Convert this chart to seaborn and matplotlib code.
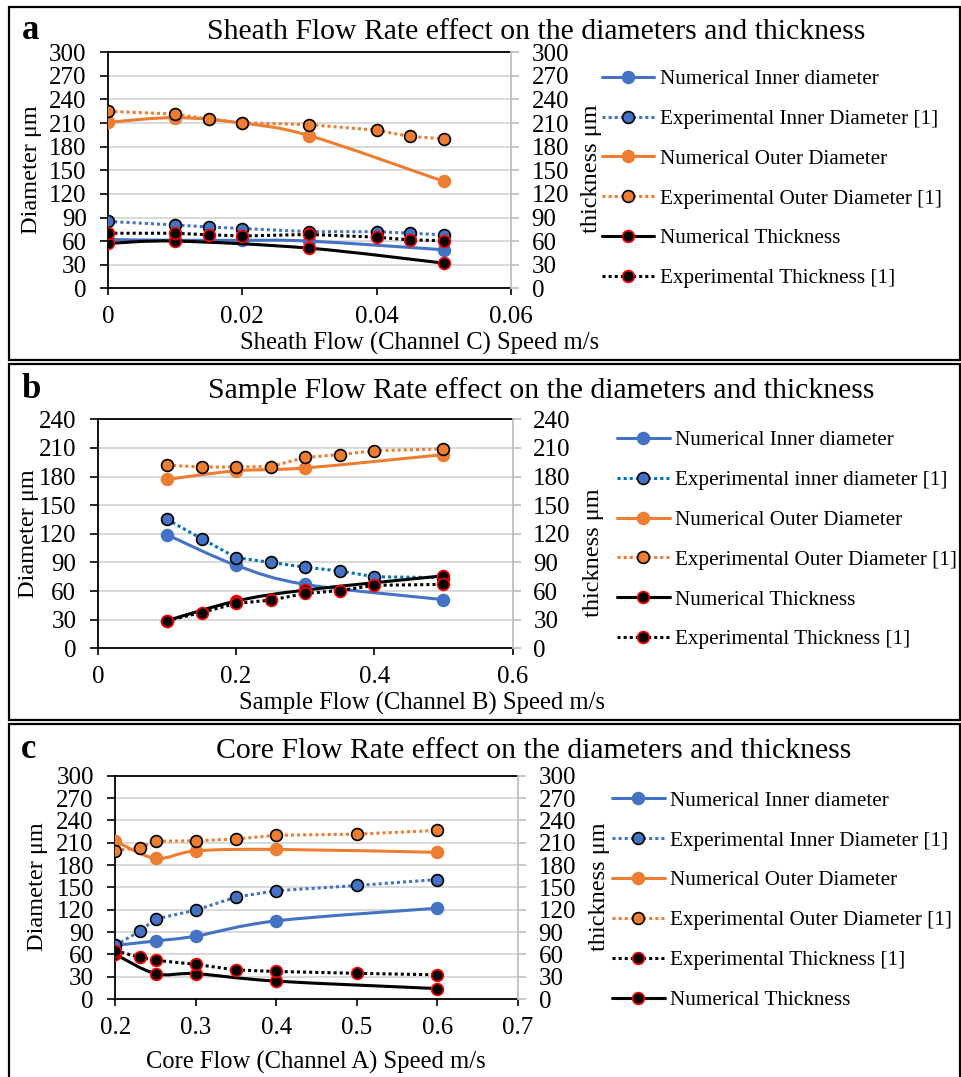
"""Three-panel flow-rate comparison: numerical vs experimental diameters and thickness."""

import matplotlib

matplotlib.use("Agg")
import matplotlib.pyplot as plt
import numpy as np
import seaborn as sns
from matplotlib.lines import Line2D
from matplotlib.patches import PathPatch, Rectangle
from matplotlib.path import Path

# ---- panel a: sheath flow (channel C) ----
a_num_x = [0, 0.01, 0.02, 0.03, 0.05]
a_num_inner = [62, 61, 61, 60, 49]
a_num_outer = [211, 217, 210, 194, 136]
a_num_thick_x = [0, 0.01, 0.03, 0.05]
a_num_thick = [57, 60, 51, 32]
a_exp_x = [0, 0.01, 0.015, 0.02, 0.03, 0.04, 0.045, 0.05]
a_exp_inner = [85, 80.5, 78, 76, 72, 72, 70, 68]
a_exp_outer = [225, 221.5, 215, 210.5, 208, 201, 193, 190]
a_exp_thick = [70, 70, 68, 66.5, 68.5, 65, 61.5, 60.5]

# ---- panel b: sample flow (channel B) ----
b_num_x = [0.1, 0.2, 0.3, 0.5]
b_num_inner = [119, 87, 67, 51]
b_num_outer = [177, 186, 189, 203]
b_num_thick = [29, 49.5, 61, 76]
b_exp_x = [0.1, 0.15, 0.2, 0.25, 0.3, 0.35, 0.4, 0.5]
b_exp_inner = [135, 115, 95, 90, 85, 81, 75, 74]
b_exp_outer = [192, 190, 190, 190.5, 200, 203, 207, 209]
b_exp_thick = [29, 37.5, 47, 50.5, 57.5, 60.5, 66, 67]

# ---- panel c: core flow (channel A) ----
c_num_x = [0.2, 0.25, 0.3, 0.4, 0.6]
c_num_inner = [72, 78, 84.5, 105, 122]
c_num_outer = [212, 189, 199, 201, 197]
c_num_thick = [60, 34, 34, 24, 14]
c_exp_x = [0.2, 0.23, 0.25, 0.3, 0.35, 0.4, 0.5, 0.6]
c_exp_inner = [72, 91, 107.5, 119.5, 137, 145.5, 152.5, 160.5]
c_exp_outer = [199.5, 203, 212, 212.5, 215, 220, 221.5, 226.5]
c_exp_thick = [65, 56, 52, 46.5, 39, 37, 34.5, 32.5]

titles = [
    "Sheath Flow Rate effect on the diameters and thickness",
    "Sample Flow Rate effect on the diameters and thickness",
    "Core Flow Rate effect on the diameters and thickness",
]
xlabels = [
    "Sheath Flow (Channel C) Speed m/s",
    "Sample Flow (Channel B) Speed m/s",
    "Core Flow (Channel A) Speed m/s",
]
labels_a = [
    "Numerical Inner diameter",
    "Experimental Inner Diameter [1]",
    "Numerical Outer Diameter",
    "Experimental Outer Diameter [1]",
    "Numerical Thickness",
    "Experimental Thickness [1]",
]
labels_b = [
    "Numerical Inner diameter",
    "Experimental inner diameter [1]",
    "Numerical Outer Diameter",
    "Experimental Outer Diameter [1]",
    "Numerical Thickness",
    "Experimental Thickness [1]",
]
labels_c = [
    "Numerical Inner diameter",
    "Experimental Inner Diameter [1]",
    "Numerical Outer Diameter",
    "Experimental Outer Diameter [1]",
    "Experimental Thickness [1]",
    "Numerical Thickness",
]

BLUE = "#4472C4"
ORANGE = "#ED7D31"
RED = "#FF0000"
GRID = "#D9D9D9"
GREY_AX = "#BFBFBF"
DOTS = (0, (1, 1))
LW = 2.2
MS = 8.5
MEW = 1.2
TICK_FS = 18

sns.set_theme(style="white")
plt.rcParams["font.family"] = ["Liberation Serif", "DejaVu Serif"]
plt.rcParams["text.color"] = "black"
plt.rcParams["xtick.color"] = "black"
plt.rcParams["ytick.color"] = "black"
plt.rcParams["xtick.labelcolor"] = "black"
plt.rcParams["ytick.labelcolor"] = "black"

W, H = 962, 1077
fig = plt.figure(figsize=(W / 100, H / 100), dpi=100)


def px_axes(left, top, right, bottom):
    return fig.add_axes([left / W, 1 - bottom / H, (right - left) / W, (bottom - top) / H])


def smooth_path(x, y):
    # Excel-like smoothed line: Catmull-Rom converted to cubic Bezier segments
    pts = np.column_stack([x, y]).astype(float)
    n = len(pts)
    verts = [pts[0]]
    codes = [Path.MOVETO]
    for i in range(n - 1):
        p0 = pts[i - 1] if i > 0 else pts[i]
        p1, p2 = pts[i], pts[i + 1]
        p3 = pts[i + 2] if i + 2 < n else pts[i + 1]
        verts += [p1 + (p2 - p0) / 6, p2 - (p3 - p1) / 6, p2]
        codes += [Path.CURVE4] * 3
    return Path(verts, codes)


def numerical(ax, x, y, color, edge, z):
    ax.add_patch(PathPatch(smooth_path(x, y), fill=False, edgecolor=color,
                           lw=LW, capstyle="round", zorder=z))
    sns.lineplot(x=x, y=y, ax=ax, color=color, linestyle="none", marker="o",
                 markersize=MS, markerfacecolor=color, markeredgecolor=edge,
                 markeredgewidth=MEW, zorder=z + 0.5, errorbar=None, legend=False)


def experimental(ax, x, y, color, face, edge, z):
    sns.lineplot(x=x, y=y, ax=ax, color=color, linestyle=DOTS, lw=LW, marker="o",
                 markersize=MS, markerfacecolor=face, markeredgecolor=edge,
                 markeredgewidth=MEW, zorder=z, errorbar=None, legend=False)


def style_axes(ax, ax2, xlim, xticks, xfmt, ymax):
    for a in (ax, ax2):
        a.set_xlim(*xlim)
        a.set_ylim(0, ymax)
        a.set_yticks(np.arange(0, ymax + 1, 30))
        a.set_xlabel("")
        a.set_ylabel("")
    ax.set_xticks(xticks)
    ax.set_xticklabels([xfmt(t) for t in xticks])
    ax.yaxis.grid(True, color=GRID, lw=1.4, zorder=0)
    ax.xaxis.grid(False)
    ax.set_axisbelow(True)
    for s in ("left", "bottom", "top"):
        ax.spines[s].set_color("black")
        ax.spines[s].set_linewidth(1.3)
    ax.spines["right"].set_visible(False)
    for s in ("left", "bottom", "top"):
        ax2.spines[s].set_visible(False)
    ax2.spines["right"].set_color(GREY_AX)
    ax2.spines["right"].set_linewidth(1.3)
    ax.tick_params(axis="y", direction="out", length=5.5, width=1.2, color="black",
                   labelsize=TICK_FS, pad=10, left=True, labelcolor="black")
    ax.tick_params(axis="x", direction="out", length=5, width=1.2, color="black",
                   labelsize=TICK_FS, pad=8, bottom=True, labelcolor="black")
    ax2.tick_params(axis="y", direction="out", length=6, width=1.2, color=GREY_AX,
                    labelsize=TICK_FS, pad=9, right=True, labelcolor="black")
    ax2.patch.set_visible(False)


def legend_handles(order, inner_dot):
    spec = {
        "ni": dict(color=BLUE, ls="-", mfc=BLUE, mec=BLUE),
        "ei": dict(color=inner_dot, ls=DOTS, mfc=BLUE, mec="black"),
        "no": dict(color=ORANGE, ls="-", mfc=ORANGE, mec=ORANGE),
        "eo": dict(color=ORANGE, ls=DOTS, mfc=ORANGE, mec="black"),
        "nt": dict(color="black", ls="-", mfc="black", mec=RED),
        "et": dict(color="black", ls=DOTS, mfc="black", mec=RED),
    }
    out = []
    for key in order:
        s = spec[key]
        out.append(Line2D([0], [0], color=s["color"], ls=s["ls"], lw=LW, marker="o",
                          markersize=MS, markerfacecolor=s["mfc"],
                          markeredgecolor=s["mec"], markeredgewidth=MEW))
    return out


panels = [
    dict(box=(9, 7, 960, 360), axes=(108.2, 52.3, 510.7, 288.3), ymax=300,
         xlim=(0, 0.06), xticks=[0, 0.02, 0.04, 0.06], xfmt=lambda v: f"{v:g}",
         num_x=a_num_x, num_inner=a_num_inner, num_outer=a_num_outer,
         num_tx=a_num_thick_x, num_thick=a_num_thick,
         exp_x=a_exp_x, exp_inner=a_exp_inner, exp_outer=a_exp_outer, exp_thick=a_exp_thick,
         letter="a", letter_xy=(22, 39), title_xy=(536.5, 39.3),
         xlabel_xy=(240, 350), ylab_l=(32, 170), ylab_r=(592, 169),
         leg_xy=(601.7, 178.8), labels=labels_a, order=["ni", "ei", "no", "eo", "nt", "et"],
         inner_dot=BLUE, title=titles[0], xlabel=xlabels[0]),
    dict(box=(9, 364, 960, 720), axes=(97.9, 419.3, 512.5, 648.3), ymax=240,
         xlim=(0, 0.6), xticks=[0, 0.2, 0.4, 0.6], xfmt=lambda v: f"{v:g}",
         num_x=b_num_x, num_inner=b_num_inner, num_outer=b_num_outer,
         num_tx=b_num_x, num_thick=b_num_thick,
         exp_x=b_exp_x, exp_inner=b_exp_inner, exp_outer=b_exp_outer, exp_thick=b_exp_thick,
         letter="b", letter_xy=(21, 398), title_xy=(541.5, 398),
         xlabel_xy=(238.6, 710), ylab_l=(29, 534), ylab_r=(594, 553),
         leg_xy=(617, 540), labels=labels_b, order=["ni", "ei", "no", "eo", "nt", "et"],
         inner_dot="#0070C0", title=titles[1], xlabel=xlabels[1]),
    dict(box=(9, 724, 960, 1090), axes=(115.4, 775.7, 517.9, 999), ymax=300,
         xlim=(0.2, 0.7), xticks=[0.2, 0.3, 0.4, 0.5, 0.6, 0.7], xfmt=lambda v: f"{v:.1f}",
         num_x=c_num_x, num_inner=c_num_inner, num_outer=c_num_outer,
         num_tx=c_num_x, num_thick=c_num_thick,
         exp_x=c_exp_x, exp_inner=c_exp_inner, exp_outer=c_exp_outer, exp_thick=c_exp_thick,
         letter="c", letter_xy=(21, 758), title_xy=(534, 758),
         xlabel_xy=(146, 1068.3), ylab_l=(38, 887), ylab_r=(599.5, 887),
         leg_xy=(612, 900.5), labels=labels_c, order=["ni", "ei", "no", "eo", "et", "nt"],
         inner_dot=BLUE, title=titles[2], xlabel=xlabels[2]),
]

for p in panels:
    x0, y0, x1, y1 = p["box"]
    fig.patches.append(Rectangle((x0 / W, 1 - y1 / H), (x1 - x0) / W, (y1 - y0) / H,
                                 transform=fig.transFigure, fill=False,
                                 edgecolor="black", lw=1.6, zorder=0))

    ax = px_axes(*p["axes"])
    ax2 = ax.twinx()

    numerical(ax, p["num_x"], p["num_inner"], BLUE, BLUE, 3)
    experimental(ax, p["exp_x"], p["exp_inner"], p["inner_dot"], BLUE, "black", 4)
    numerical(ax, p["num_x"], p["num_outer"], ORANGE, ORANGE, 5)
    experimental(ax, p["exp_x"], p["exp_outer"], ORANGE, ORANGE, "black", 6)
    numerical(ax2, p["num_tx"], p["num_thick"], "black", RED, 3)
    experimental(ax2, p["exp_x"], p["exp_thick"], "black", "black", RED, 4)

    style_axes(ax, ax2, p["xlim"], p["xticks"], p["xfmt"], p["ymax"])

    fig.text(p["letter_xy"][0] / W, 1 - p["letter_xy"][1] / H, p["letter"],
             fontsize=25, fontweight="bold", ha="left", va="baseline")
    fig.text(p["title_xy"][0] / W, 1 - p["title_xy"][1] / H, p["title"],
             fontsize=21.4, ha="center", va="baseline")
    fig.text(p["xlabel_xy"][0] / W, 1 - p["xlabel_xy"][1] / H, p["xlabel"],
             fontsize=17.7, ha="left", va="baseline")
    fig.text(p["ylab_l"][0] / W, 1 - p["ylab_l"][1] / H, "Diameter μm",
             fontsize=17.5, rotation=90, ha="center", va="center")
    fig.text(p["ylab_r"][0] / W, 1 - p["ylab_r"][1] / H, "thickness μm",
             fontsize=17.5, rotation=90, ha="center", va="center")

    fig.legend(legend_handles(p["order"], p["inner_dot"]), p["labels"], loc="center left",
               bbox_to_anchor=(p["leg_xy"][0] / W, 1 - p["leg_xy"][1] / H),
               frameon=False, fontsize=15.2, handlelength=2.5, handletextpad=0.25,
               labelspacing=0.95, borderpad=0, borderaxespad=0)

fig.savefig("out.png", dpi=100, facecolor="white")
plt.close(fig)
